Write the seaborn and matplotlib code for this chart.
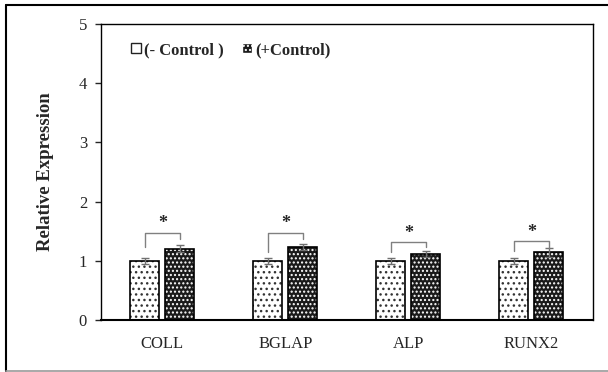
import matplotlib
matplotlib.use("Agg")
import matplotlib.pyplot as plt
from matplotlib.patches import Rectangle, Patch
from matplotlib.lines import Line2D
import seaborn as sns
import pandas as pd

# Gene expression values
genes = ["COLL", "BGLAP", "ALP", "RUNX2"]
groups = ["(- Control )", "(+Control)"]
neg_means = [1.00, 1.00, 1.00, 1.00]
pos_means = [1.20, 1.23, 1.115, 1.14]
neg_err = [0.05, 0.05, 0.05, 0.05]
pos_err = [0.06, 0.055, 0.045, 0.075]
# significance bracket levels: top, left-leg end, right-leg end
bracket_top = [1.47, 1.47, 1.31, 1.33]
bracket_left = [1.23, 1.14, 1.14, 1.16]
bracket_right = [1.37, 1.37, 1.23, 1.22]

df = pd.DataFrame({
    "gene": genes * 2,
    "group": [groups[0]] * 4 + [groups[1]] * 4,
    "value": neg_means + pos_means,
})

sns.set_style("white")
plt.rcParams["font.family"] = ["Liberation Serif", "DejaVu Serif"]
plt.rcParams["hatch.linewidth"] = 1.0

fig = plt.figure(figsize=(6.08, 3.72), dpi=100)
ax = fig.add_axes([0.166, 0.140, 0.809, 0.7955])

sns.barplot(data=df, x="gene", y="value", hue="group", order=genes,
            hue_order=groups, errorbar=None, width=0.57, gap=0.17,
            ax=ax, legend=False)

face = {0: "white", 1: "#1a1a1a"}
hatch_col = {0: "#333333", 1: "white"}
hatches = {0: "...", 1: "...."}
bars = ax.patches[:8]
errs = neg_err + pos_err
for i, bar in enumerate(bars):
    g = 0 if i < 4 else 1
    bar.set_facecolor(face[g])
    bar.set_edgecolor(hatch_col[g])
    bar.set_hatch(hatches[g])
    bar.set_linewidth(0)
    x0, w, h = bar.get_x(), bar.get_width(), bar.get_height()
    ax.add_patch(Rectangle((x0, 0), w, h, facecolor="none",
                           edgecolor="black", linewidth=1.2, zorder=3))
    ax.errorbar(x0 + w / 2, h, yerr=errs[i], color="#707070",
                capsize=3, elinewidth=1, capthick=1, zorder=4)

# significance brackets
for k in range(4):
    xl = bars[k].get_x() + bars[k].get_width() / 2
    xr = bars[k + 4].get_x() + bars[k + 4].get_width() / 2
    ax.plot([xl, xl, xr, xr],
            [bracket_left[k], bracket_top[k], bracket_top[k], bracket_right[k]],
            color="#808080", lw=1, zorder=4)
    ax.text((xl + xr) / 2, bracket_top[k] + 0.01, "*", ha="center",
            va="bottom", fontsize=13, fontweight="bold")

ax.set_ylim(0, 5)
ax.set_yticks(range(6))
ax.set_xlim(-0.5, 3.5)
ax.set_xlabel("")
ax.set_ylabel("Relative Expression", fontsize=13.5, fontweight="bold", labelpad=18)
ax.tick_params(axis="y", which="both", left=True, length=4, width=1,
               labelsize=12, pad=6)
ax.tick_params(axis="x", bottom=False, labelsize=12, pad=8)
for s in ax.spines.values():
    s.set_visible(True)
    s.set_color("black")
    s.set_linewidth(1)
ax.spines["bottom"].set_linewidth(1.5)

handles = [
    Patch(facecolor=face[0], edgecolor="#222222"),
    Patch(facecolor=face[1], edgecolor=hatch_col[1], hatch="...."),
]
leg = ax.legend(handles, groups, loc="center left", bbox_to_anchor=(0.061, 0.912),
                ncol=2, frameon=False, handlelength=0.6, handleheight=0.6,
                handletextpad=0.2, columnspacing=1.1, borderpad=0,
                borderaxespad=0, prop={"size": 12, "weight": "bold"})
for h in leg.legend_handles:
    h.set_linewidth(1.0)

# outer frame lines around the figure
fig.add_artist(Line2D([0.0099, 0.0099], [0.0027, 0.9866], transform=fig.transFigure,
                      color="black", lw=1.5))
fig.add_artist(Line2D([0.0099, 1.0], [0.9866, 0.9866], transform=fig.transFigure,
                      color="black", lw=1.5))
fig.add_artist(Line2D([0.0099, 1.0], [0.0027, 0.0027], transform=fig.transFigure,
                      color="#999999", lw=1.2))

fig.savefig("out.png", dpi=100)
